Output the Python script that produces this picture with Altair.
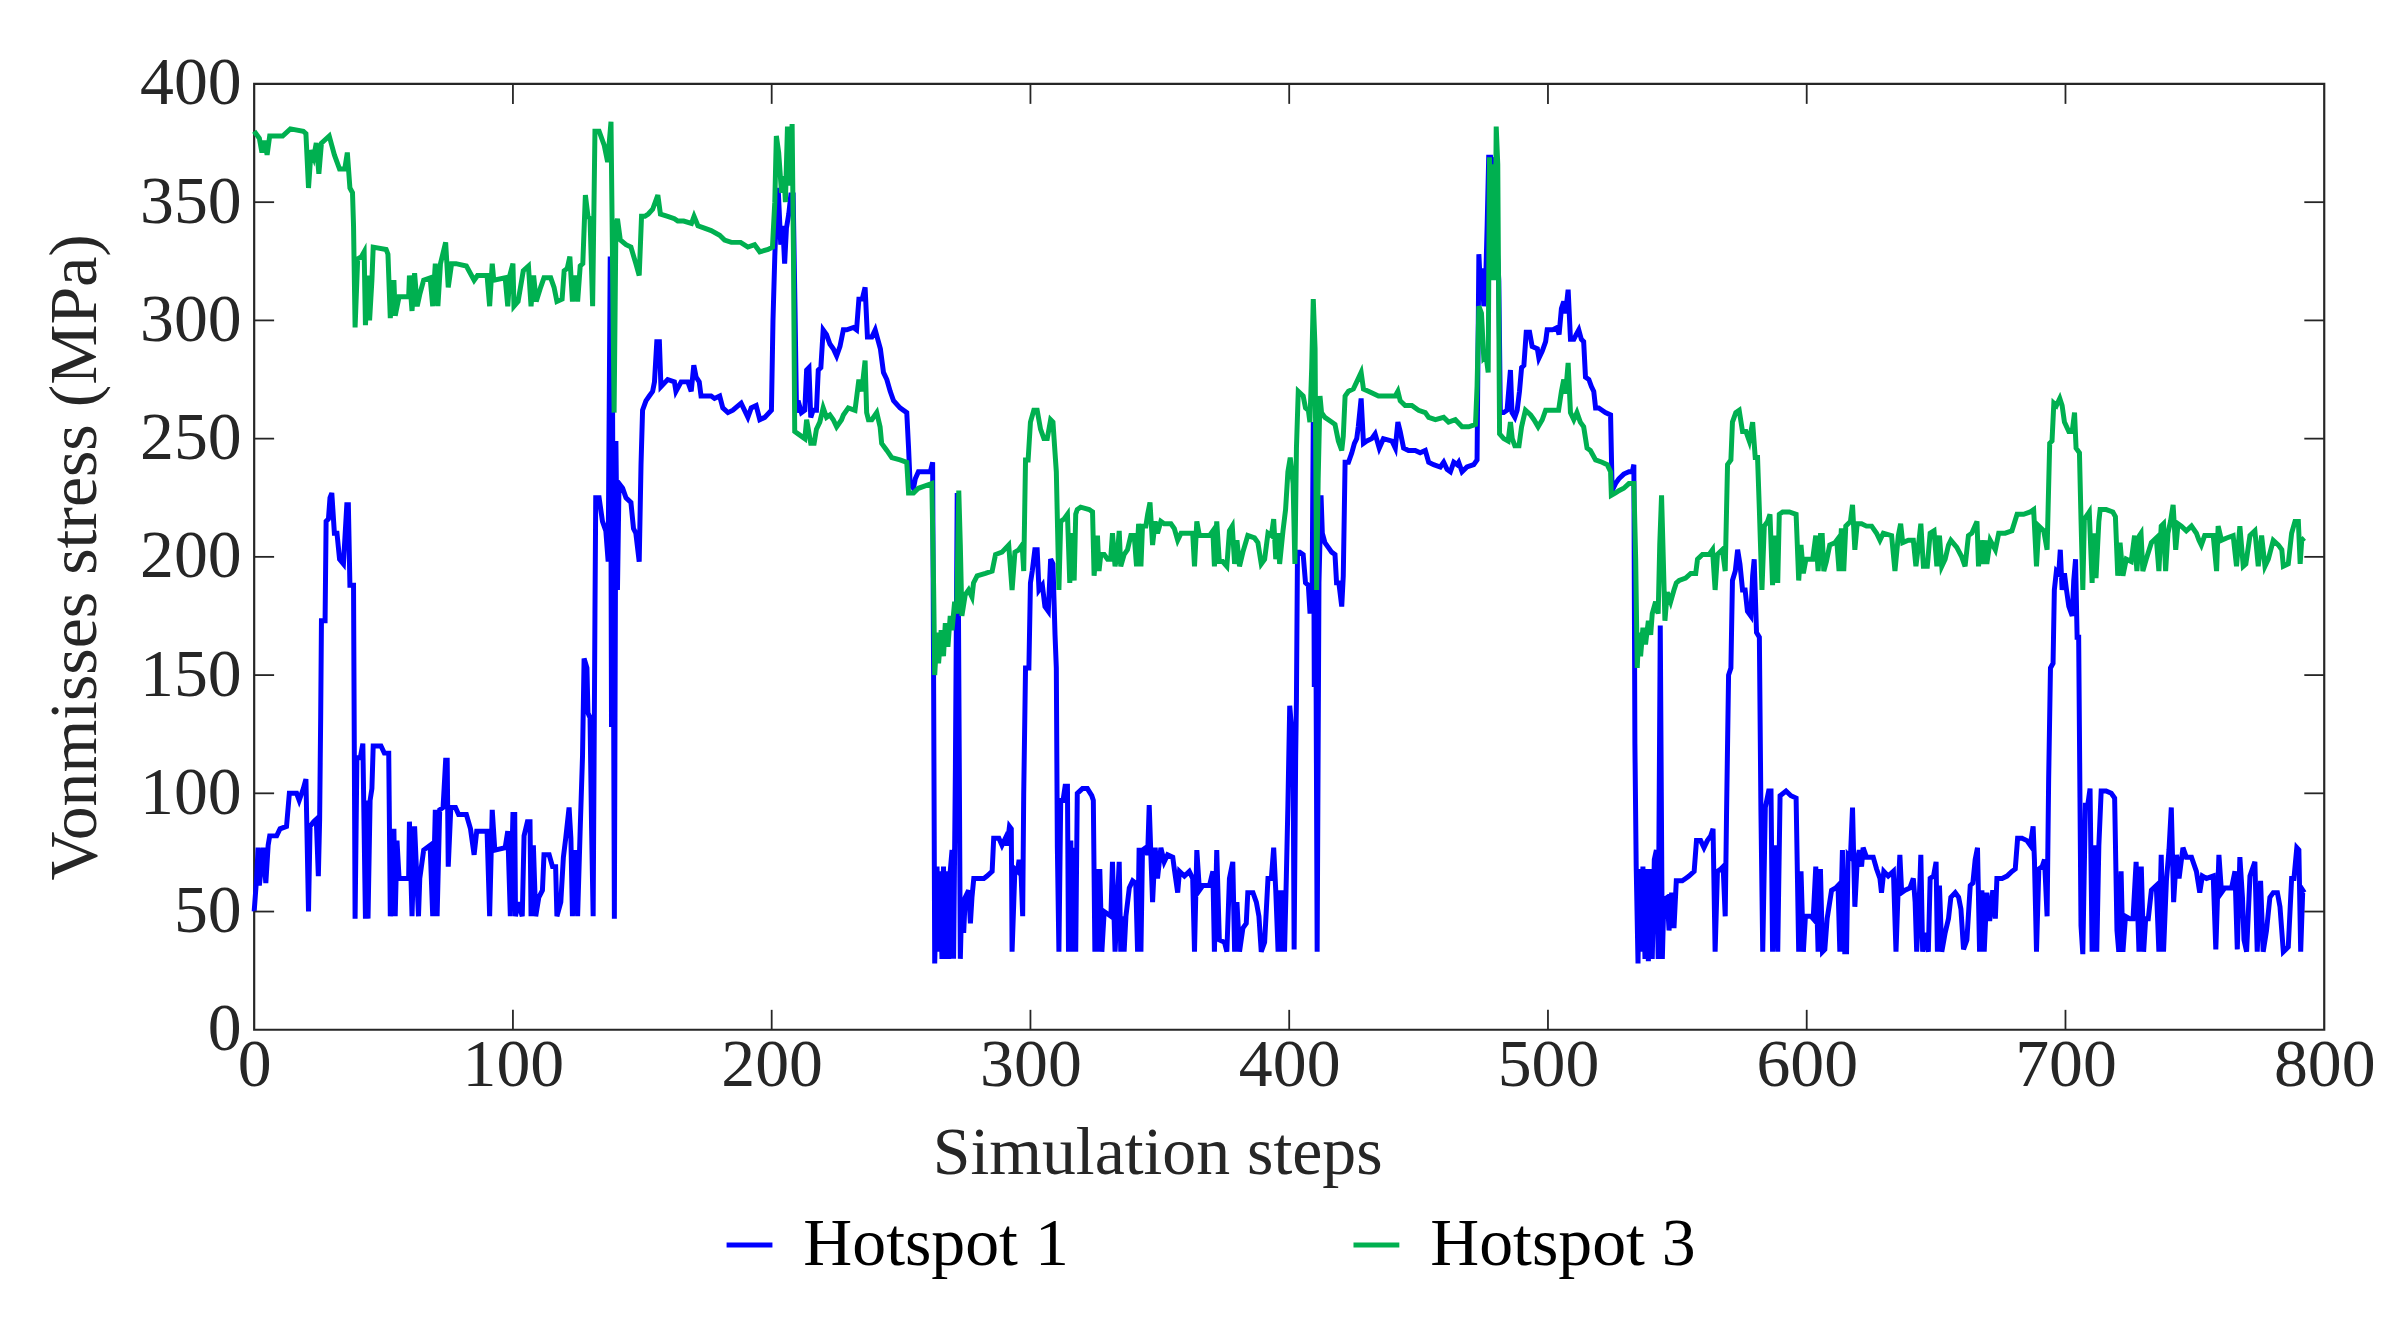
import altair as alt
import pandas as pd

# ---------------- data ----------------
x_ticks = [0, 100, 200, 300, 400, 500, 600, 700, 800]
y_ticks = [0, 50, 100, 150, 200, 250, 300, 350, 400]
series_names = ["Hotspot 1", "Hotspot 3"]
series_colors = ["#0000FF", "#00B050"]

# Hotspot 1 (step, MPa)
hs1_a = [(0,50),(1,65),(1.5,77),(2,61),(3.5,77),(4.5,62),(5.4,78),(6,82),(8.7,82),(10,85),(12.5,86),(13.6,100),(16.4,100),(17.4,97),(19,102),(20,106),(21,50),(21.6,86),(23,88),(24,89),(24.8,65),(25.3,89),(25.7,132),(26,173),(27.4,173),(27.8,215),(28.7,216),(29.3,225),(30,227),(31,210),(32,210),(33,199),(34.5,197),(35.8,222),(36.4,222),(37,188),(38.4,188),(39,47),(39.7,115),(41,115),(42,121),(43,47),(43.5,97),(44,47),(44.8,97),(45.5,102),(46,120),(49,120),(50.3,117),(52,117),(52.6,48),(54,85),(54.5,48),(55.2,80),(56,64),(59.7,64),(60,88),(61,48),(62,86),(63.5,48),(64,64),(65.5,76),(68,78),(69,48),(70,93),(70.7,48),(71.7,93),(73,94),(74,114),(74.6,114),(75,69),(76,94),(77.8,94),(79,91),(82,91),(83.6,85),(85,74),(86,84),(90,84),(91,48),(92,93),(93,76),(97,77),(98,84),(99,48),(100,91),(100.7,91),
         (101,48),(102,54),(103.6,48),(104.3,82),(105.6,88),(106.6,88),(107,48),(107.9,78),(108.8,48),(110,56),(111.4,59),(112,74),(114,74),(115.3,69),(116.5,69),(117,48),(118.5,54),(119.5,73),(120.4,81),(121.7,94),(122.4,81),(123,48),(124,76),(125,48),(126,85),(126.9,116),(127.5,157),(128.6,153),(129,134),(129.8,132),(130.4,85),(131,48),(131.7,176),(132,225),(133.3,225),(134.6,215),(135.9,211),(136.8,198),(137.6,327),(138.1,128),(138.5,267),(139.2,47),(139.8,249),(140.4,186),(141,231),(142.4,229),(143.7,225),(145.6,223),(146.6,212),(147.5,210),(148.8,198),(149.5,239),(150.1,262),(151.4,266),(152.7,268),(154,270),(154.7,274),(155.6,291),(156.6,291),(157.2,272),(159.8,275),(162.4,274),(163,270),(165,274),(167.6,274),(168.9,270),(169.9,281),(170.8,276),(172,274),(172.7,268),(175.3,268),(176.6,268),(177.9,267),(179.9,268),(181.1,263),(183.1,261),(185,262),(188.2,265),(190.8,259),(192.1,263),(194,264),(195.4,258),(197.3,259),(199.9,262)]
hs1_b = [(200.5,300),(201.2,327),(201.8,345),(202.5,356),(203.5,332),(204.3,340),(205,324),(205.7,339),(206.6,345),(207.4,353),(208.3,353),(209,306),(209.6,261),(210.2,266),(211.5,261),(212.8,262),(213.5,279),(214.4,280),(215.1,259),(216,262),(217.3,262),(218,279),(219,280),(219.9,296),(221.2,294),(222.5,290),(223.8,288),(225.1,285),(226.4,289),(227.7,296),(229,296),(231.6,297),(232.8,296),(233.7,309),(235,309),(236.1,314),(237,293),(238.7,293),(240,296),(241,292),(242,288),(243.2,278),(244.5,275),(245.8,270),(247.1,266),(249.6,263),(252.2,261),(252.9,246),(253.5,231),(254.8,229),(255.5,233),(256.7,236),(259.3,236),(261.3,236),(262.2,240),(262.6,142),(263,28),(263.9,69),(264.5,33),(265.1,67),(265.8,30),(266.4,69),(267.1,30),(267.7,67),(268.4,30),(269,67),(269.7,76),(270.3,30),(271,111),(271.7,227),(272.2,173),(272.9,30),(273.5,56),(274.2,41),(274.8,56),(276.1,59),(276.8,45),(277.4,56),(278.1,64),(280,64),(282,64),(283.2,65),(285.2,67),(285.8,81),(287.8,81),(289,78),(290.3,81),(291,78),(291.9,86),(292.6,85),(292.9,33),(294,68),(295,67),(295.5,71),(296.2,71),(297,48),(297.4,100),(298.1,153),(299.4,153),(300,189),(300.7,194),(301.7,203),(302.6,203),(303.3,186),(304.6,188),(305.6,179),(306.9,177),(307.8,199),(308.7,197),(309.5,167),(310,153),(310.4,77),(311,33),(311.7,97),(312.6,97),(313.4,103),(314.3,103),(314.7,33),(315.6,80),(316.2,33),(316.9,77),(317.5,33),(318.1,100),(320.1,102),(322,102),(323.7,99),(324.3,97),(324.9,33),(325.5,68),(326.3,33),(326.8,68),(327.6,33),(328.5,50),(331.1,48),(331.7,71),(332.7,33),(333.6,54),(334.3,71),(334.9,33),(335.6,48),(336.2,33),(336.9,48),(338.2,60),(339.5,63),(340.7,62),(341.4,33),(342,77),(342.7,33),(343.3,76),(344.6,77),(345.3,74),(345.9,95),(346.6,72),(347.2,54),(348.2,77),(349.1,64),(350.4,77),(351.7,71),(353,74),(355,73),(355.6,68),(356.9,58),(357.6,67),(359.5,65),(361.4,67),(362.7,64),(363.4,33),(364.3,76),(365.3,59),(366.6,61),(369.2,61),(370.5,67),(371.1,33),(372,76),(373,38),(375,37),(375.9,33),(376.9,64),(378.2,71),(378.9,33),(379.8,54),(380.8,33),(382.1,43),(383.4,45),(384,58),(386,58),(387.3,54),(388.3,48),(389.2,33),(390.5,37),(391.8,64),(393.1,64),(394,77),(394.8,59),(395.7,33),(396.3,59),(397,33),(397.6,59),(398.2,33),(398.9,65),(399.5,95)]
hs1_c = [(400.2,137),(401.2,124),(401.5,116),(401.9,34),(402.5,116),(402.8,140),(403.2,202),(404.1,202),(405.4,201),(406.3,189),(407.4,188),(408,177),(408.8,177),(409.3,257),(409.7,145),(410.2,202),(410.8,33),(411.5,189),(412.3,226),(412.8,210),(413.8,206),(415.1,204),(416.4,202),(417.7,201),(418.3,189),(419.2,189),(420.3,179),(420.9,192),(421.6,240),(422.9,240),(424.2,244),(425.2,248),(426.1,250),(426.7,255),(427.8,267),(428.7,248),(430,249),(431.9,250),(433.2,252),(434.8,246),(436.4,250),(439.7,249),(441,246),(442,257),(442.9,253),(444.2,246),(446.1,245),(448.7,245),(450.6,244),(452.6,245),(453.9,240),(455.8,239),(458.4,238),(459.7,240),(461,237),(462.3,236),(463.6,240),(464.9,239),(465.5,240),(466.8,236),(468.7,238),(471.3,239),(472.6,241),(473.3,328),(473.9,314),(474.5,322),(475.2,306),(475.8,311),(476.5,340),(477.1,369),(477.8,369),(478.4,350),(479.1,369),(479.7,356),(480.4,330),(481,317),(481.6,261),(482.9,261),(484.2,262),(485.5,279),(486.1,261),(487.2,259),(488.1,262),(489,270),(489.8,280),(490.7,281),(491.6,295),(492.9,295),(493.9,289),(495.9,288),(496.5,284),(497.8,287),(499.1,291),(499.7,296),(501.7,296),(503.5,297),(504.3,294),(505.2,305),(506.1,308),(506.8,303),(507.8,313),(508.7,292),(510,292),(510.9,294),(511.9,296),(512.9,292),(513.8,291),(514.5,276),(515.8,275),(516.8,272),(517.7,270),(518.4,263),(519.6,263),(520.9,262),(522.2,261),(524.2,260),(524.8,228),(526.1,231),(527.4,233),(529.3,235),(531.3,236),(532.6,236),(533.2,239),(533.6,121),(534.1,69),(534.8,28),(535.3,68),(535.9,33),(536.7,69),(537.5,30),(538.1,68),(538.8,29),(539.7,68),(540.3,30),(541.1,72),(541.9,76),(542.6,30),(543.4,171),(544.2,30),(544.8,55),(546.1,56),(546.8,42),(547.8,58),(548.7,43),(549.6,63),(551.9,63),(553.2,64),(554.5,65),(556.5,67),(557.4,80),(559,80),(560.3,77),(561.6,80),(562.9,82),(563.8,85),(564.6,33),(565.5,67),(566.8,68),(567.7,69),(568.5,48),(569,90),(569.8,150),(570.7,153),(571.3,190),(572.4,194),(573.3,203),(574.2,197),(575.2,186),(576.2,186),(577.1,177),(578.4,175),(579.1,192),(579.7,199),(580.6,168),(581.7,166),(582.3,93),(583,33),(584,94),(585.3,101),(586.2,101),(586.8,33),(587.9,78),(588.8,33),(589.7,99),(592,101),(593.9,99),(595.9,98),(596.9,33),(597.8,67),(598.7,33),(599.5,48),(601.7,48)]
hs1_d = [(602.5,47),(603.5,69),(604.4,33),(605.3,68),(606.1,33),(607,34),(607.9,47),(609.6,59),(611.2,60),(612.1,61),(612.8,33),(613.8,76),(614.7,33),(615.4,33),(616,74),(616.9,73),(617.7,94),(618.6,52),(619.5,71),(620.3,76),(621.2,69),(621.8,77),(623.1,73),(625.7,73),(627,68),(628.3,64),(628.9,58),(629.8,67),(631.5,65),(633.5,67),(634.5,33),(635.4,61),(636,74),(636.7,58),(638,59),(639.9,60),(641.2,64),(641.9,54),(642.5,33),(643.5,55),(644.1,74),(644.8,33),(645.7,41),(647,33),(647.7,64),(649,65),(650,71),(650.5,33),(651.3,61),(652.2,33),(653.5,41),(654.8,47),(655.7,56),(657.4,58),(658.7,56),(659.6,51),(660.6,34),(661.9,38),(663.2,61),(664.2,62),(665.1,72),(666,77),(666.8,33),(667.7,59),(668.6,33),(669.6,58),(670.7,46),(671.9,59),(672.9,47),(673.5,64),(675.5,64),(677.4,65),(679.3,67),(680.6,68),(681.5,81),(683.2,81),(685.1,80),(686.4,78),(687.5,86),(688,72),(688.8,33),(689.7,68),(691,69),(691.9,72),(692.9,48),(693.5,106),(694.2,153),(695.2,155),(695.7,186),(696.5,194),(697.4,193),(698,203),(698.7,186),(699.6,193),(700.4,186),(701.3,179),(702.6,175),(703.2,190),(703.9,199),(704.5,166),(705.1,166),(705.6,98),(706,44),(706.7,32),(707.7,95),(708.6,95),(709.5,102),(710.3,33),(711.2,78),(712.1,33),(712.9,78),(713.8,101),(715.7,101),(717.7,100),(719,98),(719.9,42),(720.6,33),(721.5,67),(722.2,33),(723.2,48),(724.8,47),(726.1,47),(727.3,71),(728.4,33),(729.3,69),(730.2,33),(731,47),(732,47),(733.2,59),(735.1,61),(736.1,33),(737,74),(737.9,33),(739,63),(740,76),(740.9,94),(741.8,54),(742.9,74),(743.9,64),(745.4,77),(746.7,73),(748.7,73),(750.6,67),(751.9,58),(752.9,65),(754.5,64),(757.1,65),(758.1,34),(759.3,74),(760.3,58),(761.6,60),(764.2,60),(765.5,67),(766.4,34),(767.4,73),(768.4,56),(769,38),(770,33),(771.3,65),(773.2,71),(774.1,33),(775.4,63),(776.4,33),(777.7,42),(779,56),(780.3,58),(781.9,58),(782.9,52),(784.2,33),(786.1,35),(787.4,64),(788.3,64),(789.4,77),(790.2,76),(790.9,33),(791.7,59),(792.3,58)]

# Hotspot 3 (step, MPa)
hs3_a = [(0,380),(2,377),(3,371),(4,376),(5,370),(6,378),(11,378),(14,381),(19,380),(20,379),(21,356),(22,372),(23,369),(24,375),(25,362),(26,375),(29,378),(31,370),(33,364),(35,364),(36,371),(37,356),(38,354),(38.4,340),(39,297),(40,326),(41.5,327),(42.5,329),(43,298),(44,319),(44.6,300),(45.5,317),(46,331),(51,330),(51.7,328),(52.6,301),(54,317),(54.5,302),(56,310),(59.7,310),(60,319),(61,304),(62,320),(63,306),(64,311),(65.5,317),(68,318),(69,306),(70,324),(71,306),(72,324),(74,333),(75,314),(76.3,324),(78,324),(82,323),(85,317),(86.3,319),(90,319),(91,306),(92,324),(92.6,317),(97,318),(98,306),(98.8,319),(100,324),(100.4,306),
         (102,308),(104,321),(106,323),(107,306),(108,319),(109,308),(110.7,314),(112,318),(114.6,318),(115.9,314),(117,308),(119,309),(119.8,321),(121,322),(122,327),(123,308),(124,319),(125,308),(126,323),(127,324),(128,353),(129,344),(129.8,343),(130.8,306),(131.7,380),(133.3,380),(135.3,374),(136.6,367),(137.9,384),(138.5,324),(139.1,261),(139.8,340),(140.4,343),(141.5,334),(143.7,332),(145.6,331),(147.5,324),(148.8,319),(149.7,344),(151,344),(152.3,345),(154,347),(156,353),(157,345),(159.8,344),(162.4,343),(163.7,342),(166,342),(169,341),(170,344),(171.5,340),(174,339),(176.6,338),(179.9,336),(181.8,334),(184.4,333),(188,333),(190.8,331),(193.4,332),(195.4,329),(198.6,330)]
hs3_b = [(200.3,331),(201.2,350),(201.8,378),(202.7,371),(203.8,354),(204.8,361),(205.3,350),(206.1,382),(207,357),(207.9,383),(208.4,330),(208.9,253),(210.2,252),(212.8,250),(213.5,258),(214.3,253),(215.1,248),(216.4,248),(217.3,254),(218.6,257),(219.9,263),(221.2,259),(222.5,260),(223.8,258),(225.1,255),(227,258),(227.7,260),(229.6,263),(232.2,262),(233.7,275),(234.8,270),(236.1,283),(236.7,261),(237.4,258),(238.7,258),(240.6,261),(241.9,255),(242.5,248),(244.5,245),(246.4,242),(249.6,241),(252.2,240),(252.9,227),(254.8,227),(256.7,229),(259.3,230),(261.9,231),(262.6,186),(263,150),(263.9,168),(264.5,155),(265.5,169),(266.4,158),(267.1,172),(268.1,162),(269,175),(269.7,169),(270.7,181),(271.5,176),(272.3,228),(272.9,205),(273.5,175),(274.8,184),(276.1,186),(277.4,183),(278,189),(279.4,192),(282.6,193),(285.2,194),(286.5,201),(289,202),(291.6,205),(292.9,186),(294,202),(295.5,203),(296.8,205),(297.4,194),(298.1,241),(299.1,241),(300,257),(301.3,262),(302.6,262),(303.9,254),(305.2,250),(306.5,250),(307.8,258),(308.7,257),(309.5,244),(310,236),(311,186),(311.7,215),(313,216),(314.3,218),(315.2,189),(316,210),(316.9,190),(317.5,218),(318.1,220),(319.4,221),(322.7,220),(324,219),(324.6,192),(325.9,209),(326.5,194),(327.2,201),(328.5,201),(329.8,199),(331,199),(331.7,210),(332.7,196),(333.6,201),(334.3,211),(334.9,196),(336.2,201),(337.5,203),(338.8,209),(340.1,209),(341,196),(341.8,214),(342.7,196),(343.3,213),(344.6,213),(345.3,218),(346.2,223),(347.2,205),(348.2,215),(349.1,210),(350.4,215),(351.7,214),(354.3,214),(355.6,212),(356.9,207),(358.2,210),(360.8,210),(362.7,210),(363.4,196),(364.3,215),(365.3,209),(369.2,209),(370.5,211),(371.1,196),(372,215),(373,198),(374.3,198),(375.9,196),(376.9,211),(378,213),(378.9,197),(379.8,207),(380.8,196),(382.1,202),(384,209),(386.6,208),(387.9,206),(389.2,197),(390.5,199),(391.8,210),(393.1,209),(394,216),(394.8,199),(395.6,210),(396.3,197),(397.6,211),(398.6,220),(399.5,236)]
hs3_c = [(400.4,242),(401.5,231),(402.2,197),(402.8,246),(403.5,270),(405.4,268),(406.3,263),(407.4,262),(408,257),(408.7,280),(409.3,309),(410,288),(410.6,186),(411.2,233),(411.9,268),(412.5,261),(413.8,259),(416.4,257),(417.7,256),(419,249),(420.3,245),(420.9,251),(421.6,268),(422.9,270),(424.8,271),(426.1,274),(427.8,278),(428.7,271),(430.6,270),(434.5,268),(438.4,268),(441,268),(442,270),(442.9,266),(444.8,264),(447.4,264),(450,262),(452.6,261),(453.9,259),(456.5,258),(459.7,259),(461.6,257),(464.2,258),(466.8,255),(469.4,255),(472,256),(472.6,272),(473.3,306),(474.3,303),(475.2,284),(476.1,285),(476.9,278),(477.4,369),(478.2,317),(478.8,366),(479.5,317),(480,382),(480.6,366),(481.3,252),(482.9,250),(484.6,249),(485.5,257),(486.2,250),(487.2,247),(488.8,247),(489.8,255),(491.3,262),(493.3,260),(494.6,258),(496.2,255),(497.8,258),(499.1,262),(501,262),(504.1,262),(505.2,270),(506.1,275),(506.8,269),(507.8,282),(508.7,261),(510,258),(511.2,261),(512.5,257),(513.8,255),(515.1,246),(516.4,245),(518.4,241),(520.9,240),(522.9,239),(524.2,236),(524.5,226),(526.1,227),(527.4,228),(529.3,229),(531.3,231),(533.2,231),(533.9,199),(534.5,153),(535.1,168),(535.8,158),(536.7,170),(537.7,163),(538.8,173),(539.7,167),(540.3,176),(541.6,181),(542.6,176),(543.2,205),(543.9,226),(544.5,202),(545.2,173),(546.1,185),(547.4,181),(548.7,186),(549.6,189),(550.7,190),(553.2,191),(555.2,193),(557.1,193),(557.8,199),(559.7,201),(562.3,201),(563.6,203),(564.6,186),(565.5,201),(567.4,203),(568.5,194),(569.4,239),(570.7,241),(571.3,257),(572.6,261),(573.9,262),(575.2,253),(576.5,253),(577.8,249),(579.1,257),(580.1,242),(581,242),(581.7,220),(582.7,186),(583.6,213),(584.9,215),(585.8,218),(586.8,188),(587.5,209),(588.8,189),(589.4,218),(590.7,219),(593.3,219),(595.9,218),(596.9,190),(597.8,205),(598.7,193),(599.7,199)]
hs3_d = [(602.3,199),(603.5,209),(604.4,194),(605.3,209),(606,209),(606.6,194),(607.6,198),(608.9,205),(610.9,206),(611.6,207),(612.5,194),(613.4,212),(614.3,194),(615.1,213),(616,214),(616.9,215),(617.7,222),(618.6,203),(619.5,214),(621.2,214),(623.1,213),(625.1,213),(627,210),(628.3,207),(629.6,210),(632.8,209),(634.1,194),(635.4,209),(636.3,214),(637.1,206),(639.3,207),(641.2,207),(642.2,196),(643.1,204),(644.1,214),(645.1,196),(646.6,196),(647.7,210),(649.2,211),(650.3,196),(651.3,209),(652.2,196),(653.5,199),(654.8,205),(655.7,207),(658,204),(659.9,200),(661.2,196),(662.5,209),(663.8,210),(665.8,215),(666.4,196),(667.1,207),(668.1,197),(669,207),(669.6,197),(670.9,207),(672.9,203),(674.2,210),(676.7,210),(679.3,211),(681.3,218),(683.8,218),(686.4,219),(687.7,220),(688.8,196),(689.7,213),(691.6,211),(692.9,203),(693.9,248),(694.8,249),(695.5,265),(696.5,264),(697.8,267),(698.7,264),(699.6,257),(701.3,253),(702.6,253),(703.5,261),(704.1,246),(705.4,244),(706,216),(706.7,186),(707.3,216),(708.6,218),(709.2,219),(710.3,189),(710.8,210),(711.8,191),(712.9,215),(713.4,220),(715.7,220),(718.3,219),(719.3,217),(720.2,192),(721.1,206),(722.2,192),(723.5,199),(725.4,198),(726.7,209),(727.6,194),(728.6,209),(729.2,210),(729.9,194),(731.2,199),(733.2,206),(735.1,208),(736.1,194),(737,213),(737.9,214),(738.7,194),(739.6,210),(740.6,215),(741.6,222),(742.6,203),(743.5,214),(744.8,213),(746.7,211),(748.7,213),(750.6,210),(751.6,207),(752.5,205),(753.8,209),(757.1,209),(758.4,194),(759,213),(760.3,207),(762.3,208),(764.8,209),(766.1,196),(767.4,213),(768.7,196),(769.7,197),(771.3,209),(773.2,211),(774.5,196),(775.8,209),(777.1,196),(778.4,199),(780.3,207),(782.3,205),(783.6,203),(784.2,196),(786.1,197),(787.4,210),(788.7,215),(790,215),(790.7,197),(791.3,207),(792.3,208)]

# ---------------- build tables ----------------
def frame(points, name):
    return pd.DataFrame({"step": [p[0] for p in points],
                         "mpa": [p[1] for p in points],
                         "series": name})

df1 = frame(hs1_a + hs1_b + hs1_c + hs1_d, series_names[0])
df3 = frame(hs3_a + hs3_b + hs3_c + hs3_d, series_names[1])
xt = pd.DataFrame({"step": x_ticks[1:-1]})
yt = pd.DataFrame({"mpa": y_ticks[1:-1]})

# ---------------- style ----------------
FONT = "Liberation Serif"
AX = "#262626"
W, H = 2077, 949
TICK = 20
LW = 5

xscale = alt.Scale(domain=[0, 800], nice=False, zero=False)
yscale = alt.Scale(domain=[0, 400], nice=False)

xaxis = alt.Axis(values=x_ticks, ticks=False, domain=False, grid=False,
                 labelFont=FONT, labelFontSize=68, labelColor=AX, labelPadding=2,
                 labelFlush=False, labelOverlap=False, format="d",
                 title="Simulation steps", titleFont=FONT, titleFontSize=68,
                 titleFontWeight="normal", titleColor=AX, titlePadding=20,
                 titleX=906, titleAlign="center")
yaxis = alt.Axis(values=y_ticks, ticks=False, domain=False, grid=False,
                 labelFont=FONT, labelFontSize=68, labelColor=AX, labelPadding=13,
                 labelFlush=False, labelOverlap=False, format="d",
                 title="Vonmisses stress (MPa)", titleFont=FONT, titleFontSize=68,
                 titleFontWeight="normal", titleColor=AX, titlePadding=30)

X = alt.X("step:Q", scale=xscale, axis=xaxis)
Y = alt.Y("mpa:Q", scale=yscale, axis=yaxis)

color = alt.Color(
    "series:N",
    scale=alt.Scale(domain=series_names, range=series_colors),
    title=None,
    legend=alt.Legend(orient="none", legendX=463, legendY=1131, direction="horizontal",
                      symbolType="stroke", symbolSize=2116, symbolStrokeWidth=LW,
                      labelFont=FONT, labelFontSize=68, labelColor="black",
                      labelLimit=1000, labelOffset=20, columnPadding=274, padding=0),
)

line1 = alt.Chart(df1).mark_line(strokeWidth=LW).encode(x=X, y=Y, color=color)
line3 = alt.Chart(df3).mark_line(strokeWidth=LW).encode(x=X, y=Y, color=color)

tick_kw = dict(color=AX, strokeWidth=1.8)
xt_bottom = alt.Chart(xt).mark_rule(**tick_kw).encode(x=X, y=alt.value(H), y2=alt.value(H - TICK))
xt_top = alt.Chart(xt).mark_rule(**tick_kw).encode(x=X, y=alt.value(0), y2=alt.value(TICK))
yt_left = alt.Chart(yt).mark_rule(**tick_kw).encode(y=Y, x=alt.value(0), x2=alt.value(TICK))
yt_right = alt.Chart(yt).mark_rule(**tick_kw).encode(y=Y, x=alt.value(W - TICK), x2=alt.value(W))

chart = alt.layer(line1, line3, xt_bottom, xt_top, yt_left, yt_right).properties(
    width=W, height=H,
    autosize=alt.AutoSizeParams(type="none"),
    padding={"left": 247, "top": 74, "right": 69, "bottom": 289},
    background="white",
).configure_view(stroke=AX, strokeWidth=2.2)

chart.save("out.html", embed_options={"renderer": "svg", "actions": False})
